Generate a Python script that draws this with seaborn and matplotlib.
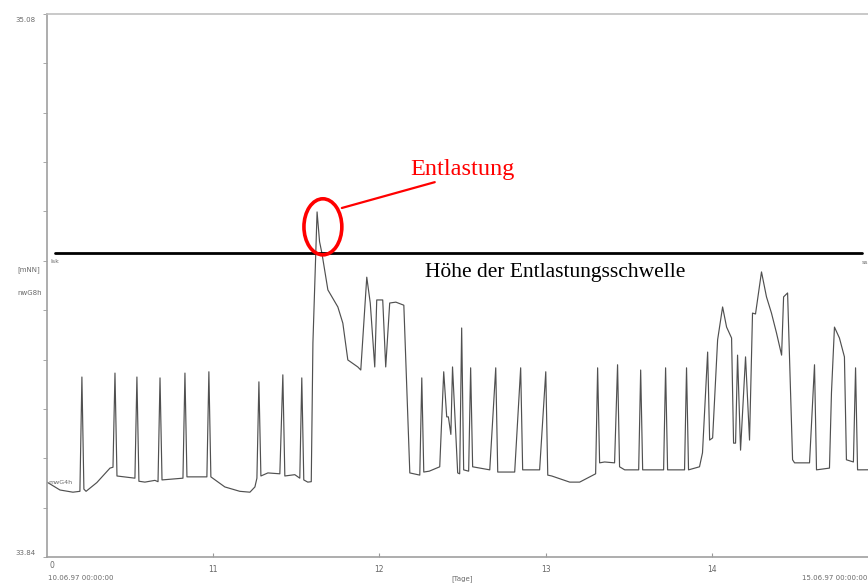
import numpy as np
import pandas as pd
import matplotlib
matplotlib.use("Agg")
import matplotlib.pyplot as plt
import seaborn as sns
from matplotlib.patches import Ellipse

# Zeitachse in Tagen (10 = 10.06.97 00:00)
tage = [
    10.000, 10.078, 10.156, 10.198, 10.210, 10.222, 10.235, 10.300, 10.379, 10.397,
    10.409, 10.421, 10.529, 10.541, 10.553, 10.589, 10.649, 10.668, 10.680, 10.692,
    10.818, 10.830, 10.842, 10.962, 10.974, 10.986, 11.070, 11.160, 11.221, 11.251,
    11.263, 11.275, 11.287, 11.329, 11.401, 11.419, 11.431, 11.491, 11.521, 11.533,
    11.545, 11.569, 11.590, 11.600, 11.625, 11.640, 11.654, 11.690, 11.750, 11.780,
    11.810, 11.870, 11.888, 11.924, 11.945, 11.972, 11.984, 12.020, 12.038, 12.062,
    12.099, 12.147, 12.183, 12.243, 12.255, 12.267, 12.300, 12.363, 12.387, 12.405,
    12.415, 12.430, 12.440, 12.471, 12.483, 12.495, 12.507, 12.537, 12.549, 12.561,
    12.664, 12.700, 12.712, 12.814, 12.850, 12.862, 12.964, 13.001, 13.013, 13.037,
    13.145, 13.205, 13.265, 13.301, 13.313, 13.325, 13.355, 13.415, 13.433, 13.445,
    13.476, 13.560, 13.572, 13.584, 13.710, 13.722, 13.734, 13.836, 13.848, 13.860,
    13.926, 13.944, 13.975, 13.987, 14.005, 14.035, 14.065, 14.089, 14.119, 14.131,
    14.143, 14.155, 14.173, 14.203, 14.227, 14.245, 14.263, 14.299, 14.329, 14.359,
    14.389, 14.420, 14.432, 14.456, 14.486, 14.498, 14.588, 14.618, 14.630, 14.708,
    14.720, 14.738, 14.768, 14.798, 14.810, 14.852, 14.865, 14.877, 14.937, 14.990,
]

# Wasserstand [mNN]
wasserstand = [
    34.011, 33.993, 33.988, 33.990, 34.251, 33.995, 33.990, 34.010, 34.043, 34.045,
    34.260, 34.025, 34.020, 34.251, 34.013, 34.011, 34.015, 34.012, 34.249, 34.016,
    34.020, 34.260, 34.023, 34.023, 34.263, 34.023, 34.000, 33.990, 33.988, 34.000,
    34.020, 34.240, 34.025, 34.032, 34.030, 34.256, 34.025, 34.028, 34.020, 34.249,
    34.016, 34.011, 34.012, 34.329, 34.628, 34.560, 34.534, 34.450, 34.411, 34.374,
    34.290, 34.274, 34.267, 34.479, 34.420, 34.274, 34.427, 34.427, 34.274, 34.420,
    34.422, 34.415, 34.032, 34.027, 34.249, 34.034, 34.036, 34.046, 34.263, 34.160,
    34.160, 34.120, 34.274, 34.032, 34.030, 34.363, 34.039, 34.036, 34.272, 34.046,
    34.039, 34.272, 34.034, 34.034, 34.272, 34.039, 34.039, 34.263, 34.027, 34.025,
    34.011, 34.011, 34.023, 34.030, 34.272, 34.055, 34.057, 34.055, 34.279, 34.046,
    34.039, 34.039, 34.267, 34.039, 34.039, 34.272, 34.039, 34.039, 34.272, 34.039,
    34.046, 34.078, 34.308, 34.107, 34.112, 34.336, 34.411, 34.365, 34.340, 34.100,
    34.100, 34.301, 34.084, 34.297, 34.107, 34.397, 34.395, 34.491, 34.434, 34.397,
    34.352, 34.301, 34.434, 34.443, 34.062, 34.055, 34.055, 34.279, 34.039, 34.043,
    34.215, 34.365, 34.340, 34.297, 34.062, 34.057, 34.272, 34.039, 34.039, 34.040,
]

schwelle = 34.534
y_min, y_max = 33.84, 35.08
x_ticks = [11, 12, 13, 14]

df = pd.DataFrame({"Tage": tage, "Wasserstand": wasserstand})

sns.set_style("white")
plt.rcParams["font.family"] = ["DejaVu Sans"]

fig = plt.figure(figsize=(8.68, 5.86), dpi=100)
ax = fig.add_axes([47 / 868, 1 - 557 / 586, 831 / 868, 543 / 586])

sns.lineplot(data=df, x="Tage", y="Wasserstand", estimator=None, sort=False,
             color="#505050", linewidth=0.85, ax=ax)

ax.set_xlim(10, 15)
ax.set_ylim(y_min, y_max)
ax.set_xlabel("")
ax.set_ylabel("")

for side in ["left", "top", "bottom"]:
    ax.spines[side].set_color("#a0a0a0")
    ax.spines[side].set_linewidth(1.2)
ax.spines["top"].set_color("#c0c0c0")
ax.spines["right"].set_visible(False)

ax.set_yticks([])
ax.set_yticks(np.linspace(y_min, y_max, 12), minor=True)
ax.tick_params(axis="y", which="both", direction="out", length=3, color="#9a9a9a", left=True)
ax.set_xticks(x_ticks)
ax.set_xticklabels([str(t) for t in x_ticks], fontsize=5.5, color="#666666")
ax.tick_params(axis="x", direction="in", length=3, color="#9a9a9a", pad=6, bottom=True)

# Entlastungsschwelle
ax.axhline(schwelle, xmin=0.01, xmax=0.981, color="black", linewidth=2)

# Markierung der Entlastung
ax.add_patch(Ellipse((11.66, 34.594), width=0.228, height=0.128, fill=False,
                     edgecolor="red", linewidth=2.6, zorder=5))
ax.plot([11.774, 12.333], [34.637, 34.696], color="red", linewidth=1.6)
fig.text(462 / 868, 1 - 170 / 586, "Entlastung", color="red", fontsize=17.5,
         family=["Liberation Serif"], ha="center", va="center")
fig.text(425 / 868, 1 - 272 / 586, "Höhe der Entlastungsschwelle", color="black",
         fontsize=15.5, family=["Liberation Serif"], ha="left", va="center")

# kleine Beschriftungen
grau = "#6a6a6a"
fig.text(36 / 868, 1 - 20 / 586, "35.08", fontsize=5, color=grau, ha="right", va="center")
fig.text(36 / 868, 1 - 553 / 586, "33.84", fontsize=5, color=grau, ha="right", va="center")
fig.text(40 / 868, 1 - 270 / 586, "[mNN]", fontsize=5, color=grau, ha="right", va="center")
fig.text(42 / 868, 1 - 293 / 586, "nwG8h", fontsize=5, color=grau, ha="right", va="center")
fig.text(48 / 868, 1 - 483 / 586, "mwG4h", fontsize=4.5, color=grau, ha="left", va="center")
fig.text(50 / 868, 1 - 261 / 586, "Isk", fontsize=4.5, color=grau, ha="left", va="center")
fig.text(862 / 868, 1 - 262 / 586, "ss", fontsize=4.5, color=grau, ha="left", va="center")
fig.text(49 / 868, 1 - 566 / 586, "0", fontsize=5.5, color=grau, ha="left", va="center")
fig.text(48 / 868, 1 - 578 / 586, "10.06.97 00:00:00", fontsize=5, color=grau, ha="left", va="center")
fig.text(462 / 868, 1 - 579 / 586, "[Tage]", fontsize=5, color=grau, ha="center", va="center")
fig.text(802 / 868, 1 - 578 / 586, "15.06.97 00:00:00", fontsize=5, color=grau, ha="left", va="center")

fig.savefig("out.png", dpi=100)
